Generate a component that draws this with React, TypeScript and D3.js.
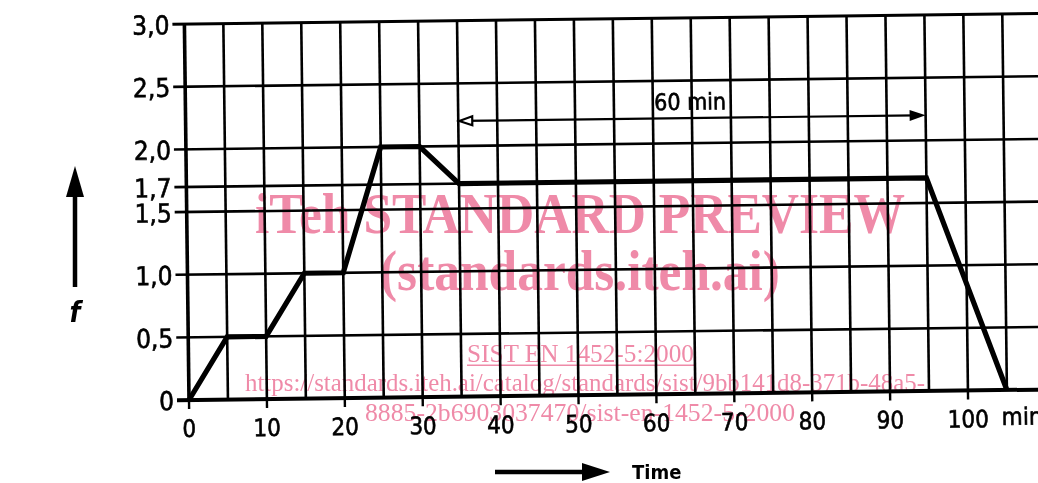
import React from "react";
import * as d3 from "d3";

const times = [0, 5, 10, 15, 20, 25, 30, 35, 95, 105];
const fValues = [0, 0.5, 0.5, 1.0, 1.0, 2.0, 2.0, 1.7, 1.7, 0];
const yTickValues = [0, 0.5, 1.0, 1.5, 1.7, 2.0, 2.5, 3.0];
const yTickLabels = ["0", "0,5", "1,0", "1,5", "1,7", "2,0", "2,5", "3,0"];
const xTickValues = [0, 10, 20, 30, 40, 50, 60, 70, 80, 90, 100];
const xTickLabels = ["0", "10", "20", "30", "40", "50", "60", "70", "80", "90", "100"];
const gridStep = 5;
const spanStart = 35;
const spanEnd = 95;
const spanLevel = 2.2;
const spanLabel = "60 min";

const W = 1038;
const H = 483;
const PINK = "#ef8aa8";
const LABEL_FONT = "'DejaVu Sans Condensed', 'Liberation Sans Narrow', 'DejaVu Sans', sans-serif";
const SERIF = "'Liberation Serif', 'DejaVu Serif', serif";

export default function App() {
  const x = d3.scaleLinear().domain([0, 100]).range([189, 968]);
  const y = d3.scaleLinear().domain([0, 3]).range([400, 24]);
  const xMax = 112;
  const vGrid = d3.range(0, xMax + 0.001, gridStep);
  const line = d3
    .line<number>()
    .x((_, i) => x(times[i]))
    .y((d) => y(d));

  const x0 = x(0);
  const y0 = y(0);
  const labelStroke = { stroke: "#000", strokeWidth: 0.6 };

  return (
    <svg width={W} height={H} style={{ position: "absolute", left: 0, top: 0, background: "#fff" }}>
      <rect x={0} y={0} width={W} height={H} fill="#fff" />
      {/* watermark */}
      <g fill={PINK} fontFamily={SERIF}>
        <text x={255} y={233} fontSize={56} fontWeight="bold" textLength={650} lengthAdjust="spacingAndGlyphs">
          iTeh STANDARD PREVIEW
        </text>
        <text x={380} y={290} fontSize={56} fontWeight="bold" textLength={400} lengthAdjust="spacingAndGlyphs">
          (standards.iteh.ai)
        </text>
        <text x={467} y={362} fontSize={25} textLength={227} lengthAdjust="spacingAndGlyphs">
          SIST EN 1452-5:2000
        </text>
        <rect x={467} y={364.5} width={227} height={1.5} />
        <text x={245} y={391} fontSize={25} textLength={680} lengthAdjust="spacingAndGlyphs">
          https://standards.iteh.ai/catalog/standards/sist/9bb141d8-371b-48a5-
        </text>
        <text x={365} y={421} fontSize={25} textLength={430} lengthAdjust="spacingAndGlyphs">
          8885-2b6903037470/sist-en-1452-5-2000
        </text>
      </g>

      <g transform={`rotate(-0.7, ${x0}, ${y0})`} style={{ mixBlendMode: "multiply" }}>
        {/* vertical grid */}
        {vGrid.map((v) => (
          <line
            key={"v" + v}
            x1={x(v)}
            x2={x(v)}
            y1={y(3)}
            y2={y(0)}
            stroke="#000"
            strokeWidth={v === 0 ? 3.6 : 2.6}
          />
        ))}
        {/* horizontal grid */}
        {yTickValues.map((v) => (
          <line
            key={"h" + v}
            x1={x0 - 12}
            x2={v === 1.7 ? x(spanEnd) : x(xMax)}
            y1={y(v)}
            y2={y(v)}
            stroke="#000"
            strokeWidth={v === 0 ? 4 : v === 3 ? 3 : 2.6}
          />
        ))}
        {/* x ticks */}
        {xTickValues.map((v) => (
          <line key={"t" + v} x1={x(v)} x2={x(v)} y1={y0} y2={y0 + 9} stroke="#000" strokeWidth={2.4} />
        ))}
        {/* data line */}
        <path d={line(fValues) || ""} fill="none" stroke="#000" strokeWidth={5.2} strokeLinejoin="miter" />

        {/* 60 min span arrow */}
        <line x1={x(spanStart) + 4} x2={x(spanEnd) - 10} y1={y(spanLevel)} y2={y(spanLevel)} stroke="#000" strokeWidth={2.2} />
        <path
          d={`M${x(spanStart) + 1},${y(spanLevel)} L${x(spanStart) + 14},${y(spanLevel) - 4.5} L${x(spanStart) + 14},${y(spanLevel) + 4.5} Z`}
          fill="#fff"
          stroke="#000"
          strokeWidth={2.2}
        />
        <path
          d={`M${x(spanEnd)},${y(spanLevel)} L${x(spanEnd) - 16},${y(spanLevel) - 5.5} L${x(spanEnd) - 16},${y(spanLevel) + 5.5} Z`}
          fill="#000"
        />
        <text
          x={x(64.8)}
          y={y(2.33)}
          fontFamily={LABEL_FONT}
          fontSize={23}
          textAnchor="middle"
          dominantBaseline="central"
          fill="#000"
          {...labelStroke}
        >
          {spanLabel}
        </text>

        {/* y labels */}
        {yTickValues.map((v, i) => (
          <text
            key={"yl" + v}
            x={x0 - 15}
            y={y(v) + 1}
            fontFamily={LABEL_FONT}
            fontSize={26}
            textAnchor="end"
            dominantBaseline="central"
            fill="#000"
            {...labelStroke}
          >
            {yTickLabels[i]}
          </text>
        ))}
        {/* x labels */}
        {xTickValues.map((v, i) => (
          <text
            key={"xl" + v}
            x={x(v)}
            y={y0 + 29}
            fontFamily={LABEL_FONT}
            fontSize={24}
            textAnchor="middle"
            dominantBaseline="central"
            fill="#000"
            {...labelStroke}
          >
            {xTickLabels[i]}
          </text>
        ))}
        <text
          x={x(104.3)}
          y={y0 + 27}
          fontFamily={LABEL_FONT}
          fontSize={24}
          dominantBaseline="central"
          fill="#000"
          {...labelStroke}
        >
          min
        </text>
      </g>

      {/* f axis arrow */}
      <line x1={75} x2={75} y1={192} y2={287} stroke="#000" strokeWidth={4.5} />
      <path d="M75,166 L66,197 L84,197 Z" fill="#000" />
      <text
        x={75}
        y={312}
        fontFamily={LABEL_FONT}
        fontSize={28}
        fontStyle="italic"
        fontWeight="bold"
        textAnchor="middle"
        dominantBaseline="central"
        fill="#000"
      >
        f
      </text>

      {/* time arrow */}
      <line x1={495} x2={590} y1={472} y2={472} stroke="#000" strokeWidth={4.5} />
      <path d="M610,472 L582,463 L582,481 Z" fill="#000" />
      <text x={632} y={472} fontFamily={LABEL_FONT} fontSize={20} fontWeight="bold" dominantBaseline="central" fill="#000">
        Time
      </text>
    </svg>
  );
}
